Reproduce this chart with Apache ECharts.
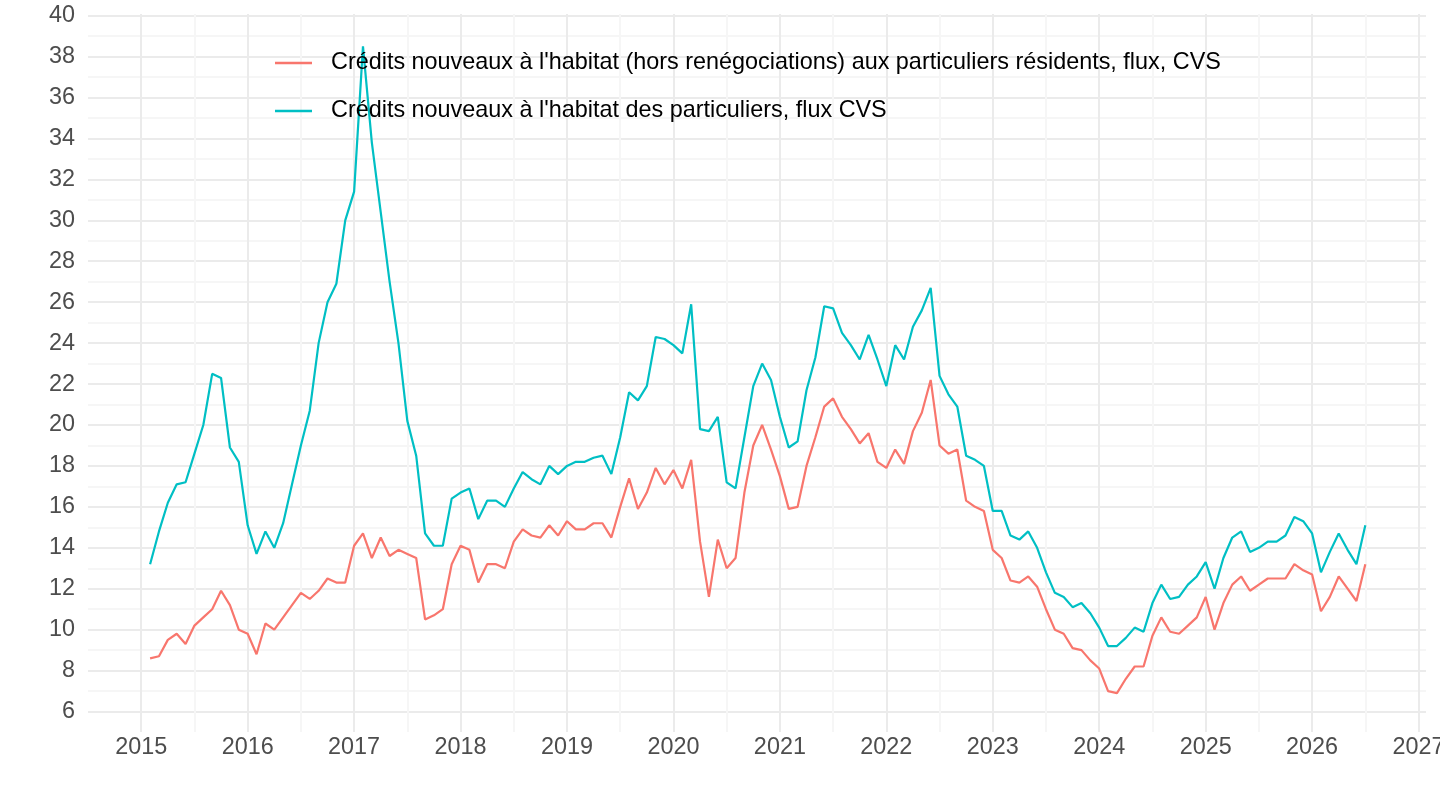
<!DOCTYPE html>
<html lang="fr">
<head>
    <meta charset="UTF-8">
    <title>Crédits nouveaux à l'habitat</title>
    <style>
        html, body { margin: 0; padding: 0; background: #ffffff; }
        #main { width: 1440px; height: 810px; }
    </style>
</head>
<body>
<div id="main"></div>
<script src="https://cdn.jsdelivr.net/npm/echarts@6/dist/echarts.min.js"></script>
<script>
    const myChart = echarts.init(document.getElementById('main'));

    // mois de départ de la série : février 2015, un point par mois
    const startYear = 2015;
    const startMonth = 2;

    const seriesNames = [
        "Crédits nouveaux à l'habitat (hors renégociations) aux particuliers résidents, flux, CVS",
        "Crédits nouveaux à l'habitat des particuliers, flux CVS"
    ];

    // hors renégociations (rouge)
    const horsReneg = [
        8.6, 8.7, 9.5, 9.8, 9.3, 10.2, 10.6, 11.0, 11.9, 11.2, 10.0, 9.8,
        8.8, 10.3, 10.0, 10.6, 11.2, 11.8, 11.5, 11.9, 12.5, 12.3, 12.3, 14.1,
        14.7, 13.5, 14.5, 13.6, 13.9, 13.7, 13.5, 10.5, 10.7, 11.0, 13.2, 14.1,
        13.9, 12.3, 13.2, 13.2, 13.0, 14.3, 14.9, 14.6, 14.5, 15.1, 14.6, 15.3,
        14.9, 14.9, 15.2, 15.2, 14.5, 16.0, 17.4, 15.9, 16.7, 17.9, 17.1, 17.8,
        16.9, 18.3, 14.3, 11.6, 14.4, 13.0, 13.5, 16.7, 19.0, 20.0, 18.8, 17.5,
        15.9, 16.0, 18.0, 19.4, 20.9, 21.3, 20.4, 19.8, 19.1, 19.6, 18.2, 17.9,
        18.8, 18.1, 19.7, 20.6, 22.2, 19.0, 18.6, 18.8, 16.3, 16.0, 15.8, 13.9,
        13.5, 12.4, 12.3, 12.6, 12.1, 11.0, 10.0, 9.8, 9.1, 9.0, 8.5, 8.1,
        7.0, 6.9, 7.6, 8.2, 8.2, 9.7, 10.6, 9.9, 9.8, 10.2, 10.6, 11.6,
        10.0, 11.3, 12.2, 12.6, 11.9, 12.2, 12.5, 12.5, 12.5, 13.2, 12.9, 12.7,
        10.9, 11.6, 12.6, 12.0, 11.4, 13.2
    ];

    // total (bleu)
    const total = [
        13.2, 14.8, 16.2, 17.1, 17.2, 18.6, 20.0, 22.5, 22.3, 18.9, 18.2, 15.1,
        13.7, 14.8, 14.0, 15.2, 17.1, 19.0, 20.7, 24.0, 26.0, 26.9, 30.0, 31.4,
        38.5, 33.8, 30.4, 27.0, 24.0, 20.2, 18.5, 14.7, 14.1, 14.1, 16.4, 16.7,
        16.9, 15.4, 16.3, 16.3, 16.0, 16.9, 17.7, 17.35, 17.1, 18.0, 17.6, 18.0,
        18.2, 18.2, 18.4, 18.5, 17.6, 19.4, 21.6, 21.2, 21.9, 24.3, 24.2, 23.9,
        23.5, 25.9, 19.8, 19.7, 20.4, 17.2, 16.9, 19.4, 21.9, 23.0, 22.2, 20.4,
        18.9, 19.2, 21.7, 23.3, 25.8, 25.7, 24.5, 23.9, 23.2, 24.4, 23.2, 21.9,
        23.9, 23.2, 24.8, 25.6, 26.7, 22.4, 21.5, 20.9, 18.5, 18.3, 18.0, 15.8,
        15.8, 14.6, 14.4, 14.8, 14.0, 12.8, 11.8, 11.6, 11.1, 11.3, 10.8, 10.1,
        9.2, 9.2, 9.6, 10.1, 9.9, 11.3, 12.2, 11.5, 11.6, 12.2, 12.6, 13.3,
        12.0, 13.5, 14.5, 14.8, 13.8, 14.0, 14.3, 14.3, 14.6, 15.5, 15.3, 14.7,
        12.8, 13.8, 14.7, 13.9, 13.2, 15.1
    ];

    const colors = ['#F8766D', '#00BFC4'];
    const font = "'Liberation Sans', Arial, sans-serif";

    // date décimale (année + mois/12) pour chaque point
    const toPoints = arr => arr.map((v, i) => {
        const m = startMonth - 1 + i;
        return [startYear + Math.floor(m / 12) + (m % 12) / 12, v];
    });

    const option = {
        animation: false,
        color: colors,
        textStyle: { fontFamily: font },
        grid: {
            left: 88,
            right: 14,
            top: 14,
            bottom: 78,
            containLabel: false,
            outerBoundsMode: 'none'
        },
        legend: {
            orient: 'vertical',
            left: 275,
            top: 50,
            padding: 0,
            itemGap: 22,
            itemWidth: 37,
            itemHeight: 2.5,
            icon: 'rect',
            textStyle: {
                fontSize: 23.4,
                color: '#000000',
                fontFamily: font,
                lineHeight: 26,
                padding: [0, 0, 0, 14]
            },
            data: seriesNames
        },
        xAxis: {
            type: 'value',
            min: 2014.5,
            max: 2027.07,
            interval: 0.5,
            axisLine: { show: false },
            axisTick: { show: false },
            axisLabel: {
                fontSize: 23.4,
                color: '#4D4D4D',
                margin: 4,
                showMinLabel: false,
                showMaxLabel: false,
                formatter: v => (Math.abs(v - Math.round(v)) < 1e-6 ? String(Math.round(v)) : '')
            },
            splitLine: {
                show: true,
                showMinLine: false,
                showMaxLine: false,
                lineStyle: { color: ['#EBEBEB', '#F6F6F6'], width: 2 }
            }
        },
        yAxis: {
            type: 'value',
            min: 5,
            max: 40.08,
            interval: 1,
            axisLine: { show: false },
            axisTick: { show: false },
            axisLabel: {
                fontSize: 23.4,
                color: '#4D4D4D',
                margin: 13,
                showMinLabel: false,
                showMaxLabel: false,
                formatter: v => (Math.round(v) === v && v % 2 === 0 ? String(v) : '')
            },
            splitLine: {
                show: true,
                showMinLine: false,
                showMaxLine: false,
                lineStyle: { color: ['#EBEBEB', '#F6F6F6'], width: 2 }
            }
        },
        series: [
            {
                name: seriesNames[0],
                type: 'line',
                data: toPoints(horsReneg),
                showSymbol: false,
                lineStyle: { width: 2.2, color: colors[0] },
                itemStyle: { color: colors[0] }
            },
            {
                name: seriesNames[1],
                type: 'line',
                data: toPoints(total),
                showSymbol: false,
                lineStyle: { width: 2.2, color: colors[1] },
                itemStyle: { color: colors[1] }
            }
        ]
    };

    myChart.setOption(option);
</script>
</body>
</html>
